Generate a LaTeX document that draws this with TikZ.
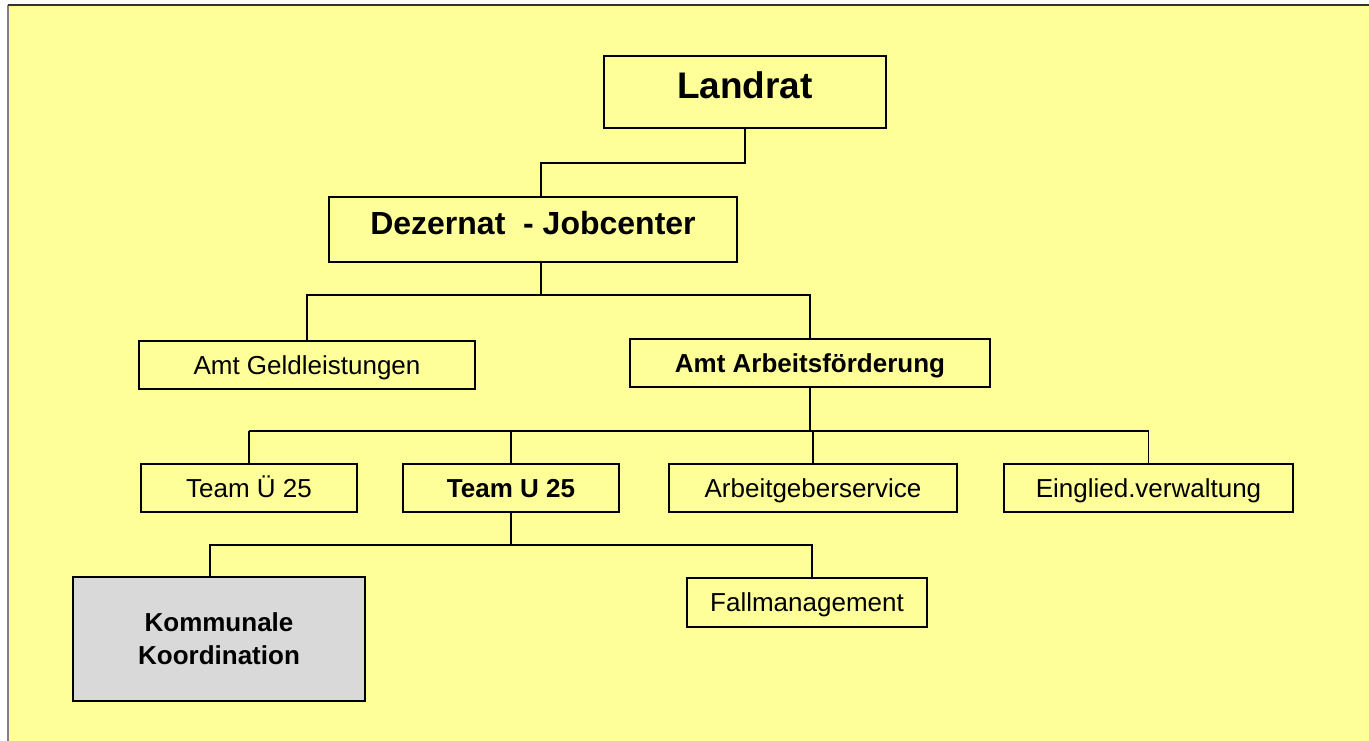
\documentclass[tikz,border=0pt]{standalone}
\usepackage{fontspec}
\setmainfont{Liberation Sans}
\usetikzlibrary{positioning,calc}
\definecolor{hgelb}{HTML}{FFFF99}
\definecolor{kgrau}{HTML}{D9D9D9}
\tikzset{
  kasten/.style={draw,line width=2pt,fill=hgelb,inner sep=0pt,align=center,
    minimum height=48,text height=22pt,text depth=3.5pt,
    font=\fontsize{26}{33}\selectfont},
  fett/.style={font=\fontsize{26}{33}\selectfont\bfseries},
  verb/.style={line width=1.8pt},
}

\begin{document}
\begin{tikzpicture}[x=1pt,y=-1pt]
  \useasboundingbox (0,0) rectangle (1369,741);
  \clip (0,0) rectangle (1369,741);
  \fill[hgelb] (8,5) rectangle (1369,741);
  \draw[line width=2pt,gray] (8,741) -- (8,5);
  \draw[line width=2pt,black!80] (8,5) -- (1369,5);
  % Kaesten
  \node[kasten,minimum width=282,minimum height=72,text height=27pt,text depth=13.5pt,
    font=\fontsize{37}{44}\selectfont\bfseries] (landrat) at (745,92) {Landrat};
  \node[kasten,minimum width=408,minimum height=65,text height=24pt,text depth=14pt,
    font=\fontsize{32}{38}\selectfont\bfseries] (dez) at (533,229.5) {Dezernat~~- Jobcenter};
  \node[kasten,minimum width=336] (geld) at (307,365) {Amt Geldleistungen};
  \node[kasten,fett,minimum width=360] (arbf) at (810,363) {Amt Arbeitsförderung};
  \node[kasten,minimum width=216] (tue) at (249,488) {Team Ü 25};
  \node[kasten,fett,minimum width=216] (tu) at (511,488) {Team U 25};
  \node[kasten,minimum width=288] (ag) at (813,488) {Arbeitgeberservice};
  \node[kasten,minimum width=289] (ein) at (1148.5,488) {Einglied.verwaltung};
  \node[kasten,fett,fill=kgrau,minimum width=292,minimum height=124,
    text height=,text depth=] (kom) at (219,639) {Kommunale\\Koordination};
  \node[kasten,minimum width=240,minimum height=49] (fall) at (807,602.5) {Fallmanagement};
  % Verbindungen
  \coordinate (b0) at (0,163); \coordinate (b1) at (0,295);
  \coordinate (b2) at (0,431); \coordinate (b3) at (0,545);
  \draw[verb] (landrat.south) -- (landrat.south |- b0) -- ([xshift=8]dez.north |- b0)
    -- ([xshift=8]dez.north);
  \draw[verb] ([xshift=8]dez.south) -- ([xshift=8]dez.south |- b1);
  \draw[verb] (geld.north) -- (geld.north |- b1) -- (arbf.north |- b1) -- (arbf.north);
  \draw[verb] (arbf.south) -- (arbf.south |- b2);
  \draw[verb] (tue.north |- b2) -- (ein.north |- b2);
  \foreach \n in {tue,tu,ag,ein} \draw[verb] (\n.north) -- (\n.north |- b2);
  \draw[verb] (tu.south) -- (tu.south |- b3);
  \draw[verb] ([xshift=-9]kom.north) -- ([xshift=-9]kom.north |- b3)
    -- ([xshift=5]fall.north |- b3) -- ([xshift=5]fall.north);
\end{tikzpicture}
\end{document}
